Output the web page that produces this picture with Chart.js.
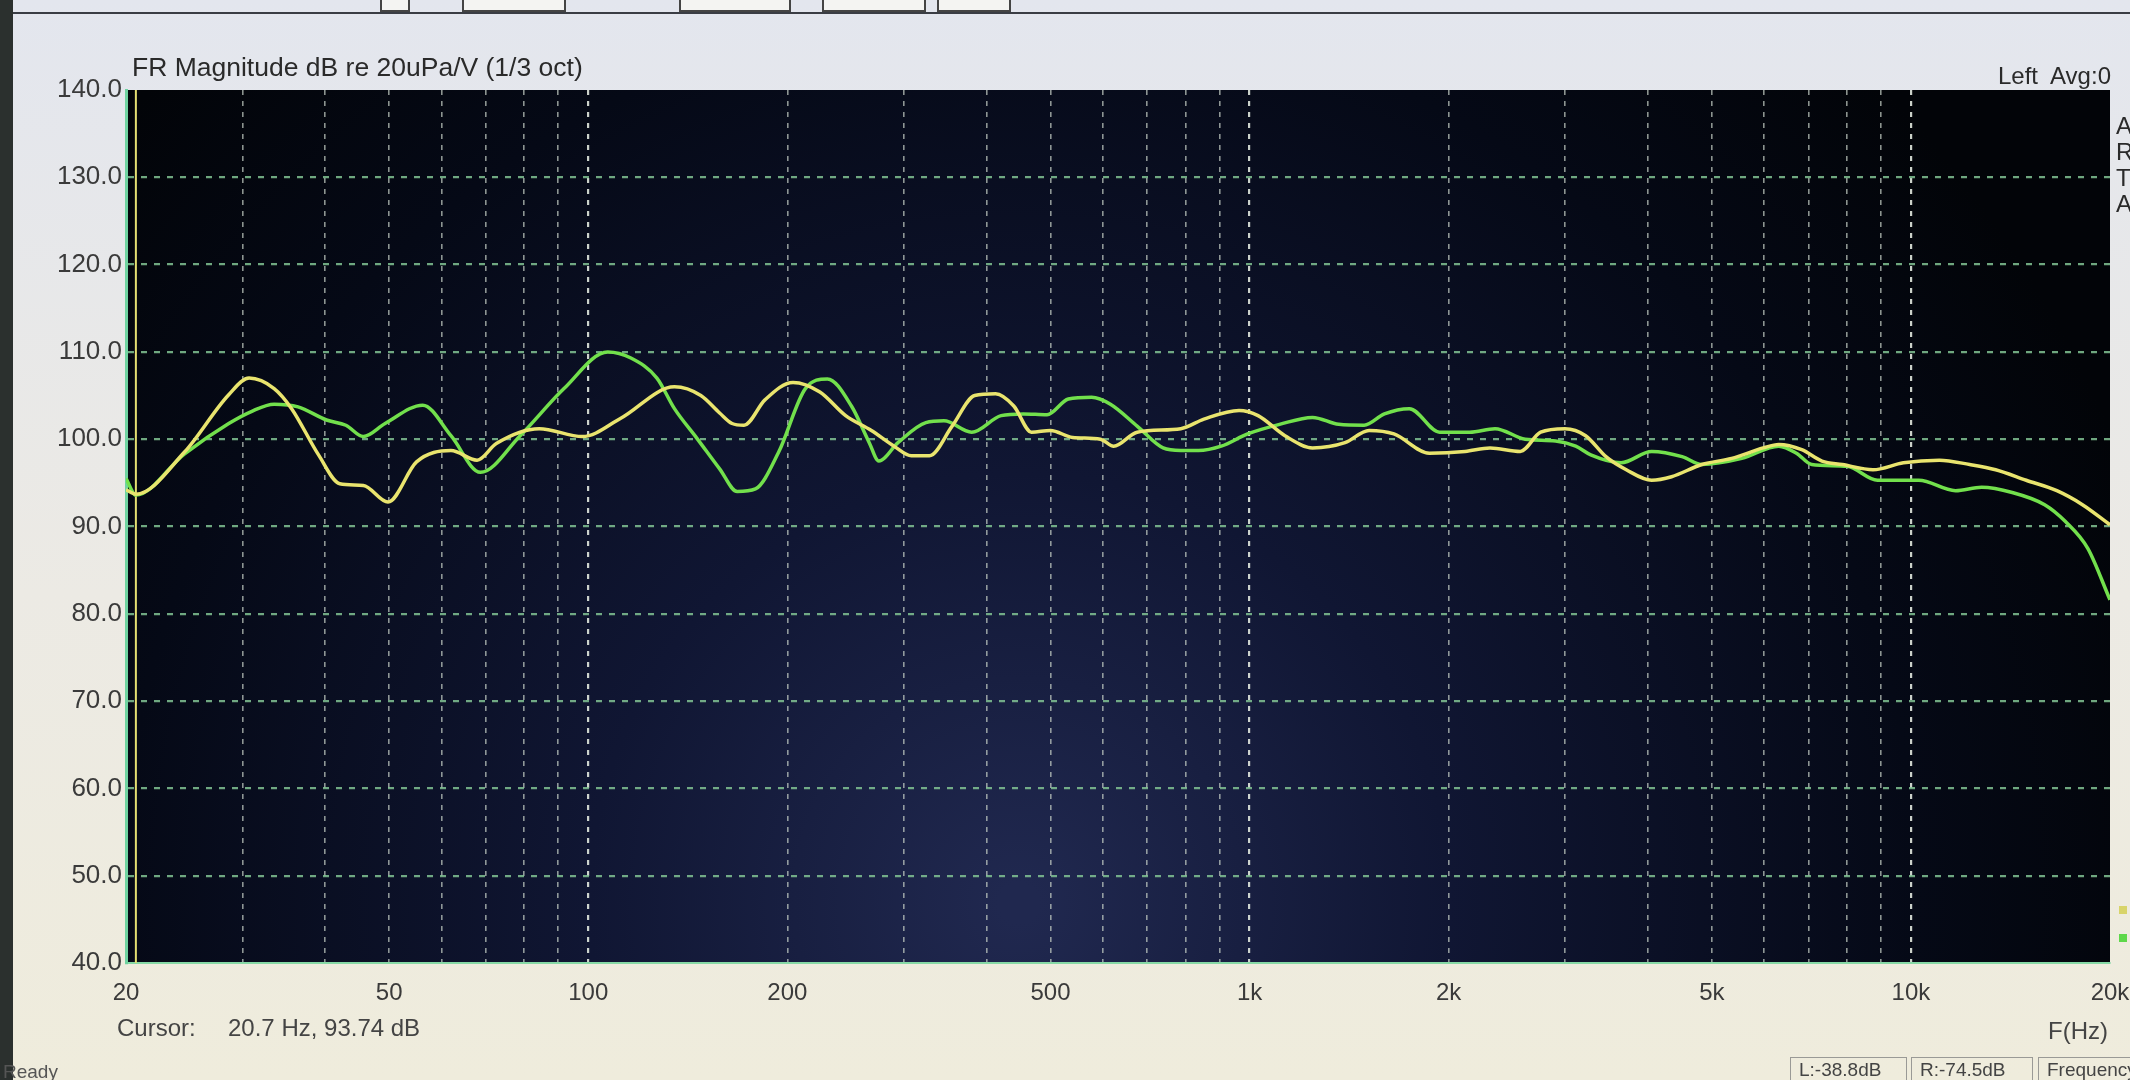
<!DOCTYPE html>
<html>
<head>
<meta charset="utf-8">
<script src="https://cdn.jsdelivr.net/npm/chart.js@4.4.1/dist/chart.umd.min.js"></script>
<style>
  html, body { margin: 0; padding: 0; }
  body {
    width: 2130px; height: 1080px; overflow: hidden; position: relative;
    background: linear-gradient(180deg, #e3e6ee 0%, #eceae4 55%, #efecdc 100%);
    font-family: 'Liberation Sans', Arial, sans-serif; color: #2a2a2a;
  }
  #chart { position: absolute; left: 0; top: 0; }
  .txt { position: absolute; white-space: nowrap; font-size: 24px; line-height: 28px; }
  .bezel { position: absolute; left: 0; top: 0; width: 13px; height: 1080px; background: #2b302e; }
  .btn { position: absolute; top: 0; height: 10px; border: 2px solid #444; border-top: none; background: #f4f4f2; }
  .toolbar-line { position: absolute; left: 13px; top: 12px; width: 2117px; height: 2px; background: #3a3d44; }
  .pane { position: absolute; top: 1057px; height: 23px; border: 1px solid #9a9a96; border-bottom: none;
          font-size: 19px; line-height: 24px; padding-left: 8px; color: #444; box-sizing: border-box; overflow: hidden; }
  .swatch { position: absolute; left: 2119px; width: 8px; height: 8px; }
</style>
</head>
<body>
<div class="toolbar-line"></div>
<div class="btn" style="left:380px;width:26px"></div>
<div class="btn" style="left:462px;width:100px"></div>
<div class="btn" style="left:679px;width:108px"></div>
<div class="btn" style="left:822px;width:100px"></div>
<div class="btn" style="left:937px;width:70px"></div>

<canvas id="chart" width="2130" height="1080"></canvas>

<div class="bezel"></div>
<div class="txt" style="left:132px;top:52px;font-size:26.5px;line-height:30px;">FR Magnitude dB re 20uPa/V (1/3 oct)</div>
<div class="txt" style="left:1998px;top:62px;">Left&nbsp; Avg:0</div>
<div class="txt" style="left:2116px;top:112px;">A</div>
<div class="txt" style="left:2116px;top:138px;">R</div>
<div class="txt" style="left:2116px;top:164px;">T</div>
<div class="txt" style="left:2116px;top:190px;">A</div>
<div class="swatch" style="top:906px;background:#d8d46a;"></div>
<div class="swatch" style="top:934px;background:#5ed84a;"></div>
<div class="txt" style="left:117px;top:1014px;color:#444;">Cursor:</div>
<div class="txt" style="left:228px;top:1014px;color:#444;">20.7 Hz, 93.74 dB</div>
<div class="txt" style="left:2048px;top:1017px;color:#444;">F(Hz)</div>
<div class="txt" style="left:3px;top:1058px;font-size:19px;color:#555;">Ready</div>
<div class="pane" style="left:1790px;width:117px;">L:-38.8dB</div>
<div class="pane" style="left:1911px;width:122px;">R:-74.5dB</div>
<div class="pane" style="left:2038px;width:100px;">Frequency</div>

<script>
// yellow trace (Hz / dB)
const yellowFreq = [20, 20.7, 24.5, 28.6, 30.7, 33.5, 35.6, 39.1, 42.1, 45.7, 49.8, 55, 62, 67.9, 72.6, 84.3, 98, 112, 135,
  148, 158, 165, 172, 185, 204, 224, 245, 268, 290, 308, 328, 355, 384, 413, 440, 468, 500, 540, 595, 623, 676, 787, 853,
  964, 1030, 1131, 1245, 1394, 1516, 1653, 1870, 2118, 2310, 2566, 2755, 2999, 3222, 3458, 3712, 4055, 4346, 4828, 5357,
  5980, 6312, 6838, 7337, 7877, 8763, 9743, 11041, 12270, 13430, 14940, 16620, 18170, 20000];
const yellowDb = [94.2, 93.7, 98.5, 105.1, 107.0, 105.8, 103.5, 98.2, 94.9, 94.7, 92.8, 97.4, 98.7, 97.6, 99.5, 101.2, 100.3, 102.4, 106.0,
  105.0, 103.0, 101.8, 101.6, 104.5, 106.5, 105.4, 102.7, 101.0, 99.2, 98.1, 98.1, 101.5, 105.0, 105.2, 103.8, 100.8, 101.0, 100.2, 100.0, 99.2, 100.8, 101.2, 102.3,
  103.3, 102.7, 100.4, 99.0, 99.6, 101.0, 100.6, 98.4, 98.6, 99.0, 98.6, 100.8, 101.2, 100.4, 98.0, 96.5, 95.3, 95.7, 97.1, 97.8,
  99.0, 99.4, 98.8, 97.5, 97.1, 96.5, 97.3, 97.6, 97.1, 96.5, 95.3, 94.1, 92.5, 90.2];

// green trace (Hz / dB)
const greenFreq = [20, 20.7, 24.5, 28.6, 31, 33.5, 36.4, 40.2, 43, 45.7, 49.3, 56.2, 62, 68.7, 78.9, 91.9, 107, 116, 127, 135,
  146, 158, 168, 179, 194, 213, 230, 250, 266, 275, 294, 324, 345, 380, 421, 455, 494, 532, 577, 616, 676, 740, 787, 837,
  906, 993, 1110, 1245, 1364, 1490, 1599, 1744, 1938, 2153, 2350, 2611, 2902, 3113, 3280, 3646, 4055, 4508, 4828, 5551,
  6312, 6713, 7080, 8005, 8902, 10276, 11680, 12790, 14230, 15930, 17110, 18510, 20000];
const greenDb = [95.5, 93.6, 98.3, 101.8, 103.2, 104.0, 103.7, 102.2, 101.6, 100.3, 101.8, 103.9, 100.4, 96.2, 100.4, 105.8, 110.0, 109.3, 107.0, 103.5,
  100.1, 96.6, 94.0, 94.3, 98.5, 105.8, 106.9, 103.8, 99.6, 97.5, 99.6, 101.9, 102.1, 100.8, 102.7, 102.9, 102.8, 104.6, 104.8, 104.0, 101.5, 99.0, 98.7, 98.7,
  99.2, 100.6, 101.7, 102.5, 101.7, 101.6, 102.9, 103.5, 100.8, 100.8, 101.2, 100.0, 99.8, 99.2, 98.2, 97.3, 98.6, 98.0, 97.1, 97.8,
  99.2, 98.4, 97.1, 96.9, 95.3, 95.3, 94.1, 94.5, 93.9, 92.5, 90.6, 87.5, 81.6];

// axis ticks
const gridFreqs = [20, 30, 40, 50, 60, 70, 80, 90, 100, 200, 300, 400, 500, 600, 700, 800, 900,
  1000, 2000, 3000, 4000, 5000, 6000, 7000, 8000, 9000, 10000, 20000];
const xLabelFreqs = [20, 50, 100, 200, 500, 1000, 2000, 5000, 10000, 20000];
const xLabelTexts = ['20', '50', '100', '200', '500', '1k', '2k', '5k', '10k', '20k'];
const majorFreqs = [100, 1000, 10000];
const cursorFreq = 20.7;

const plotBackground = {
  id: 'plotBackground',
  beforeDraw(chart) {
    const { ctx, chartArea: a } = chart;
    const g = ctx.createRadialGradient(a.left + a.width * 0.45, a.bottom - 60, 20,
                                       a.left + a.width * 0.45, a.bottom - 60, a.width * 0.6);
    g.addColorStop(0, '#20284f');
    g.addColorStop(0.35, '#101633');
    g.addColorStop(0.75, '#050916');
    g.addColorStop(1, '#020408');
    ctx.save();
    ctx.fillStyle = g;
    ctx.fillRect(a.left, a.top, a.width, a.height);
    ctx.restore();
  }
};

const cursorLine = {
  id: 'cursorLine',
  beforeDatasetsDraw(chart) {
    const { ctx, chartArea: a, scales } = chart;
    const x = scales.x.getPixelForValue(cursorFreq);
    ctx.save();
    ctx.strokeStyle = '#e4df72';
    ctx.lineWidth = 2;
    ctx.beginPath();
    ctx.moveTo(x, a.top);
    ctx.lineTo(x, a.bottom);
    ctx.stroke();
    ctx.restore();
  }
};

Chart.defaults.font.family = "'Liberation Sans', Arial, sans-serif";

new Chart(document.getElementById('chart'), {
  type: 'line',
  data: {
    datasets: [
      {
        label: 'Right',
        data: yellowFreq.map((f, i) => ({ x: f, y: yellowDb[i] })),
        borderColor: '#e9e46e',
        borderWidth: 3.5,
        cubicInterpolationMode: 'monotone',
        pointRadius: 0,
        fill: false
      },
      {
        label: 'Left',
        data: greenFreq.map((f, i) => ({ x: f, y: greenDb[i] })),
        borderColor: '#72e04c',
        borderWidth: 3.5,
        cubicInterpolationMode: 'monotone',
        pointRadius: 0,
        fill: false
      }
    ]
  },
  options: {
    responsive: false,
    animation: false,
    layout: { padding: { top: 90, right: 20, left: 0, bottom: 0 } },
    plugins: { legend: { display: false }, tooltip: { enabled: false } },
    scales: {
      x: {
        type: 'logarithmic',
        min: 20,
        max: 20000,
        afterBuildTicks(scale) {
          scale.ticks = gridFreqs.map(v => ({ value: v }));
        },
        afterFit(scale) {
          scale.height = 117;
          scale.paddingLeft = 0;
          scale.paddingRight = 0;
        },
        ticks: {
          autoSkip: false,
          maxRotation: 0,
          padding: 16,
          color: '#3a3a3a',
          font: { size: 24 },
          callback(value) {
            const i = xLabelFreqs.indexOf(value);
            return i >= 0 ? xLabelTexts[i] : '';
          }
        },
        grid: {
          drawTicks: false,
          color(ctx) {
            const v = ctx.tick && ctx.tick.value;
            if (v === 20 || v === 20000) return 'rgba(0,0,0,0)';
            return majorFreqs.includes(v) ? 'rgba(225,232,222,0.9)' : 'rgba(200,210,200,0.7)';
          },
          lineWidth(ctx) {
            return majorFreqs.includes(ctx.tick && ctx.tick.value) ? 2.2 : 1.6;
          }
        },
        border: { display: true, color: '#86d9a6', width: 2, dash: [5, 6] }
      },
      y: {
        min: 40,
        max: 140,
        afterFit(scale) { scale.width = 126; },
        ticks: {
          stepSize: 10,
          padding: 4,
          color: '#3a3a3a',
          font: { size: 26 },
          callback: v => v.toFixed(1)
        },
        grid: {
          drawTicks: false,
          color(ctx) {
            const v = ctx.tick && ctx.tick.value;
            return (v === 140 || v === 40) ? 'rgba(0,0,0,0)' : 'rgba(130,196,148,0.85)';
          },
          lineWidth: 2.2
        },
        border: { display: true, color: '#6fd3a0', width: 3, dash: [6, 7] }
      }
    }
  },
  plugins: [plotBackground, cursorLine]
});
</script>
</body>
</html>
